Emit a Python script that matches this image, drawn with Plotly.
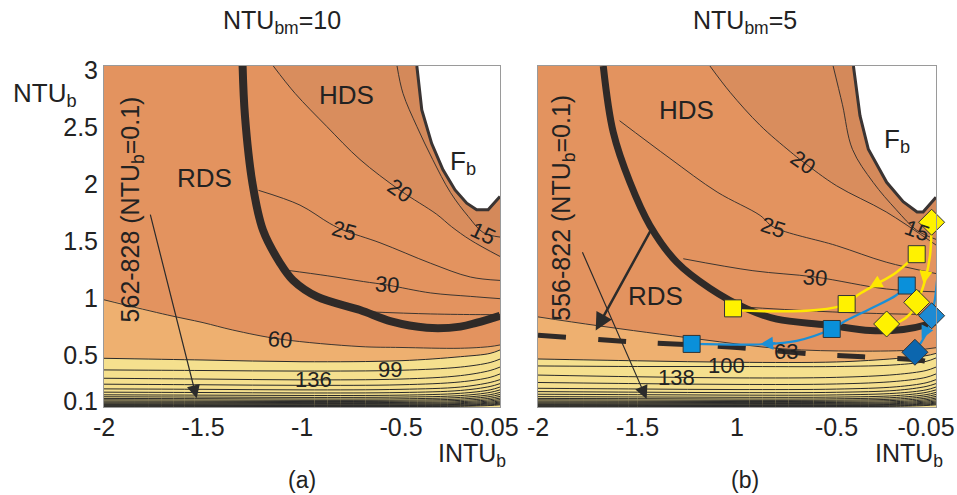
import plotly.graph_objects as go

FONT = "Liberation Sans, Arial, Helvetica, sans-serif"

# ---------------- axes ----------------
X_RANGE = [-2.0, 0.0]
Y_RANGE = [0.05, 3.04]
y_tickvals = [0.1, 0.5, 1, 1.5, 2, 2.5, 3]
y_ticktext = ["0.1", "0.5", "1", "1.5", "2", "2.5", "3"]
x_tickvals = [-2, -1.5, -1, -0.5, -0.05]
a_x_ticktext = ["-2", "-1.5", "-1", "-0.5", "-0.05"]
b_x_ticktext = ["-2", "-1.5", "1", "-0.5", "-0.05"]

# ---------------- colours ----------------
C_BASE = "#E3935F"
C_HDS = "#D98D5D"
C_TOP = "#D4895A"
C_MID = "#EEB070"
C_LOW = "#F5E08E"
C_LINE = "#2A2A2A"
C_THICK = "#2F2A28"

# ================= Panel (a): NTU_bm = 10 =================
a_thick_x = [-1.30, -1.288, -1.25, -1.197, -1.11, -1.045, -0.924, -0.707, -0.55, -0.37, -0.2, -0.116, 0.0]
a_thick_y = [3.04, 2.60, 2.01, 1.60, 1.31, 1.16, 1.017, 0.90, 0.80, 0.745, 0.755, 0.79, 0.85]

a_fb_x = [-0.42, -0.395, -0.345, -0.288, -0.227, -0.168, -0.118, -0.06, 0.0]
a_fb_y = [3.04, 2.655, 2.36, 2.13, 1.953, 1.837, 1.78, 1.78, 1.895]

a_c15_x = [-0.52, -0.49, -0.42, -0.34, -0.25, -0.16, -0.085, 0.0]
a_c15_y = [3.04, 2.80, 2.51, 2.22, 1.93, 1.72, 1.58, 1.54]

a_c20_x = [-1.145, -1.035, -0.875, -0.707, -0.505, -0.32, -0.244, -0.15, 0.0]
a_c20_y = [3.04, 2.80, 2.51, 2.22, 1.95, 1.74, 1.63, 1.515, 1.37]

a_c25_x = [-1.22, -1.01, -0.86, -0.79, -0.606, -0.35, -0.15, 0.0]
a_c25_y = [1.95, 1.82, 1.66, 1.60, 1.49, 1.31, 1.19, 1.16]

a_c30_x = [-1.08, -0.87, -0.69, -0.57, -0.35, -0.15, 0.0]
a_c30_y = [1.25, 1.20, 1.15, 1.12, 1.05, 1.02, 1.00]

a_c40_x = [-0.69, -0.35, -0.1, 0.0]
a_c40_y = [0.886, 0.866, 0.86, 0.86]

a_c60_x = [-2.0, -1.68, -1.5, -1.35, -1.11, -0.707, -0.5, -0.2, -0.05, 0.0]
a_c60_y = [0.99, 0.857, 0.79, 0.725, 0.645, 0.58, 0.572, 0.565, 0.58, 0.594]

low_x = [-2.0, -1.5, -1.0, -0.5, -0.2, -0.05, 0.0]
a_low_y = [
    [0.477, 0.462, 0.447, 0.456, 0.491, 0.52, 0.55],
    [0.375, 0.370, 0.365, 0.372, 0.400, 0.44, 0.47],
    [0.302, 0.295, 0.288, 0.295, 0.325, 0.37, 0.40],
    [0.250, 0.245, 0.240, 0.245, 0.270, 0.31, 0.34],
    [0.209, 0.205, 0.200, 0.205, 0.225, 0.265, 0.29],
    [0.180, 0.177, 0.173, 0.177, 0.195, 0.230, 0.255],
    [0.157, 0.154, 0.151, 0.154, 0.170, 0.200, 0.225],
    [0.140, 0.137, 0.134, 0.137, 0.150, 0.178, 0.200],
    [0.125, 0.123, 0.120, 0.122, 0.134, 0.158, 0.178],
    [0.113, 0.111, 0.108, 0.110, 0.120, 0.142, 0.160],
    [0.102, 0.100, 0.098, 0.100, 0.108, 0.127, 0.143],
    [0.093, 0.091, 0.089, 0.090, 0.097, 0.114, 0.128],
    [0.085, 0.083, 0.081, 0.082, 0.088, 0.103, 0.115],
    [0.078, 0.076, 0.074, 0.075, 0.080, 0.093, 0.103],
    [0.071, 0.070, 0.068, 0.069, 0.073, 0.084, 0.093],
    [0.065, 0.064, 0.063, 0.063, 0.067, 0.076, 0.084],
    [0.060, 0.059, 0.058, 0.058, 0.061, 0.069, 0.076],
    [0.055, 0.055, 0.054, 0.054, 0.056, 0.063, 0.069],
]

# contour labels (text, x, y, angle)
a_labels = [("20", -0.505, 1.95, 35), ("25", -0.79, 1.60, 15), ("30", -0.57, 1.12, 5),
            ("15", -0.084, 1.574, 25), ("60", -1.11, 0.645, 5), ("99", -0.556, 0.375, 0),
            ("136", -0.943, 0.287, 0)]
a_regions = [("RDS", -1.49, 2.056), ("HDS", -0.774, 2.787), ("F<sub>b</sub>", -0.185, 2.19)]
a_note = ("562-828 (NTU<sub>b</sub>=0.1)", -1.86, 1.78)
a_arrow = (-1.768, 1.75, -1.532, 0.126)   # tail x, tail y, head x, head y

# ================= Panel (b): NTU_bm = 5 =================
b_thick_x = [-1.672, -1.622, -1.538, -1.437, -1.303, -1.136, -0.95, -0.80, -0.55, -0.33, -0.164, -0.03, 0.0]
b_thick_y = [3.04, 2.46, 2.02, 1.64, 1.32, 1.09, 0.91, 0.82, 0.77, 0.72, 0.73, 0.78, 0.80]

b_fb_x = [-0.415, -0.382, -0.34, -0.248, -0.165, -0.095, -0.065, 0.0]
b_fb_y = [3.04, 2.605, 2.31, 2.02, 1.85, 1.76, 1.76, 1.89]

b_c15_x = [-0.517, -0.47, -0.42, -0.316, -0.2, -0.097, 0.0]
b_c15_y = [3.04, 2.70, 2.31, 2.02, 1.78, 1.60, 1.52]

b_c20_x = [-1.136, -1.035, -0.884, -0.733, -0.668, -0.50, -0.25, 0.0]
b_c20_y = [3.04, 2.81, 2.52, 2.29, 2.20, 1.99, 1.76, 1.47]

b_c25_x = [-1.59, -1.337, -1.10, -0.884, -0.818, -0.50, -0.25, 0.0]
b_c25_y = [2.56, 2.23, 1.935, 1.73, 1.63, 1.465, 1.32, 1.22]

b_c30_x = [-1.27, -0.92, -0.608, -0.25, 0.0]
b_c30_y = [1.35, 1.245, 1.19, 1.085, 1.06]

b_c40_x = [-1.0, -0.6, -0.3, 0.0]
b_c40_y = [0.93, 0.89, 0.87, 0.86]

b_c60_x = [-2.0, -1.70, -1.20, -0.77, -0.40, -0.10, 0.0]
b_c60_y = [0.84, 0.763, 0.647, 0.56, 0.54, 0.55, 0.57]

b_dash_x = [-2.0, -1.54, -1.035, -0.62, -0.367, -0.065, 0.0]
b_dash_y = [0.68, 0.623, 0.576, 0.515, 0.49, 0.456, 0.427]

b_low_y = [
    [0.471, 0.455, 0.442, 0.445, 0.475, 0.50, 0.52],
    [0.410, 0.405, 0.405, 0.405, 0.420, 0.45, 0.48],
    [0.330, 0.315, 0.305, 0.310, 0.335, 0.37, 0.40],
    [0.265, 0.255, 0.248, 0.252, 0.275, 0.31, 0.34],
    [0.214, 0.208, 0.203, 0.207, 0.227, 0.262, 0.29],
    [0.185, 0.180, 0.176, 0.179, 0.196, 0.230, 0.255],
    [0.162, 0.158, 0.154, 0.156, 0.171, 0.200, 0.225],
    [0.141, 0.138, 0.135, 0.137, 0.150, 0.178, 0.200],
    [0.125, 0.123, 0.120, 0.122, 0.134, 0.158, 0.178],
    [0.113, 0.111, 0.108, 0.110, 0.120, 0.142, 0.160],
    [0.102, 0.100, 0.098, 0.100, 0.108, 0.127, 0.143],
    [0.093, 0.091, 0.089, 0.090, 0.097, 0.114, 0.128],
    [0.085, 0.083, 0.081, 0.082, 0.088, 0.103, 0.115],
    [0.078, 0.076, 0.074, 0.075, 0.080, 0.093, 0.103],
    [0.071, 0.070, 0.068, 0.069, 0.073, 0.084, 0.093],
    [0.065, 0.064, 0.063, 0.063, 0.067, 0.076, 0.084],
    [0.060, 0.059, 0.058, 0.058, 0.061, 0.069, 0.076],
    [0.055, 0.055, 0.054, 0.054, 0.056, 0.063, 0.069],
]

b_labels = [("20", -0.667, 2.197, 35), ("25", -0.818, 1.626, 18), ("30", -0.608, 1.188, 5),
            ("15", -0.097, 1.60, 20), ("63", -0.755, 0.535, 0), ("100", -1.052, 0.412, 0),
            ("138", -1.303, 0.31, 0)]
b_regions = [("HDS", -1.253, 2.65), ("RDS", -1.412, 1.026), ("F<sub>b</sub>", -0.198, 2.386)]
b_note = ("556-822 (NTU<sub>b</sub>=0.1)", -1.873, 1.80)
b_arrow_thin = (-1.78, 1.42, -1.454, 0.12)
b_arrow_thick = (-1.43, 1.61, -1.71, 0.72)

# operating paths (panel b)
ysq_x = [-0.097, -0.449, -1.02]
ysq_y = [1.39, 0.953, 0.915]
ysq_path_x = [-0.097, -0.2, -0.317, -0.398, -0.449, -0.6, -0.85, -1.02]
ysq_path_y = [1.39, 1.23, 1.11, 1.026, 0.953, 0.90, 0.89, 0.90]

bsq_x = [-0.147, -0.524, -1.228]
bsq_y = [1.115, 0.734, 0.603]
bsq_path_x = [-0.147, -0.2, -0.332, -0.449, -0.524, -0.70, -0.87, -1.228]
bsq_path_y = [1.115, 1.03, 0.91, 0.81, 0.734, 0.63, 0.60, 0.603]

ydm_x = [-0.022, -0.097, -0.248]
ydm_y = [1.67, 0.968, 0.778]
ydm_path_x = [-0.022, -0.03, -0.055, -0.08, -0.097, -0.13, -0.18, -0.248]
ydm_path_y = [1.67, 1.38, 1.16, 1.03, 0.968, 0.866, 0.80, 0.778]

bdm_x = [0.028, -0.022, -0.106]
bdm_y = [1.33, 0.85, 0.53]
bdm_colors = ["#1D8AD3", "#1D8AD3", "#0C66AE"]
bdm_path_x = [0.028, 0.012, -0.005, -0.022, -0.039, -0.055, -0.106]
bdm_path_y = [1.33, 1.245, 1.0, 0.85, 0.734, 0.675, 0.53]

# arrow heads on the paths: (tail x, tail y, head x, head y, colour)
path_arrows = [
    (-0.27, 1.16, -0.335, 1.095, "#FFE800"),
    (-0.05, 1.25, -0.062, 1.13, "#FFE800"),
    (-0.80, 0.612, -0.884, 0.60, "#1B8FD6"),
    (-0.047, 0.734, -0.072, 0.646, "#1B8FD6"),
]

fig = go.Figure()
EXT = 0.3  # how far fill polygons are pushed outside the visible axes (clipped)


def poly_upper_right(xs, ys):
    px = list(xs) + [xs[-1] + EXT, xs[-1] + EXT, xs[0]]
    py = list(ys) + [ys[-1], Y_RANGE[1] + EXT, Y_RANGE[1] + EXT]
    return px, py


def poly_below(xs, ys):
    px = [xs[0] - EXT] + list(xs) + [xs[-1] + EXT, xs[-1] + EXT, xs[0] - EXT]
    py = [ys[0]] + list(ys) + [ys[-1], Y_RANGE[0] - EXT, Y_RANGE[0] - EXT]
    return px, py


def add_fill(xa, ya, poly, color, shape="spline"):
    fig.add_trace(go.Scatter(x=poly[0], y=poly[1], xaxis=xa, yaxis=ya, mode="lines",
                             line=dict(width=0, shape=shape, color=color), fill="toself",
                             fillcolor=color, hoverinfo="skip"))


def add_line(xa, ya, xs, ys, width=0.9, color=C_LINE, dash=None, shape="spline"):
    fig.add_trace(go.Scatter(x=xs, y=ys, xaxis=xa, yaxis=ya, mode="lines",
                             line=dict(width=width, color=color, shape=shape, dash=dash),
                             hoverinfo="skip"))


def add_panel(xa, ya, c15, c20, c25, c30, c40, c60, fb, low_y, thick, thick_w):
    add_fill(xa, ya, poly_upper_right(*c20), C_HDS)
    add_fill(xa, ya, poly_upper_right(*c15), C_TOP)
    add_fill(xa, ya, poly_below(*c60), C_MID)
    add_fill(xa, ya, poly_below(low_x, low_y[0]), C_LOW)
    add_fill(xa, ya, poly_upper_right(*fb), "#FFFFFF", shape="linear")
    for xs, ys in [c15, c20, c25, c30, c40, c60]:
        add_line(xa, ya, xs, ys)
    for row in low_y:
        add_line(xa, ya, low_x, row, width=1.0)
    add_line(xa, ya, fb[0], fb[1], width=3, color="#3A3433", shape="linear")
    add_line(xa, ya, thick[0], thick[1], width=thick_w, color=C_THICK)


add_panel("x", "y", (a_c15_x, a_c15_y), (a_c20_x, a_c20_y), (a_c25_x, a_c25_y),
          (a_c30_x, a_c30_y), (a_c40_x, a_c40_y), (a_c60_x, a_c60_y),
          (a_fb_x, a_fb_y), a_low_y, (a_thick_x, a_thick_y), 8)
add_panel("x2", "y2", (b_c15_x, b_c15_y), (b_c20_x, b_c20_y), (b_c25_x, b_c25_y),
          (b_c30_x, b_c30_y), (b_c40_x, b_c40_y), (b_c60_x, b_c60_y),
          (b_fb_x, b_fb_y), b_low_y, (b_thick_x, b_thick_y), 7)
add_line("x2", "y2", b_dash_x, b_dash_y, width=5, color=C_THICK, dash="28px,32px")

# operating paths
add_line("x2", "y2", ysq_path_x, ysq_path_y, width=2.5, color="#FFE800")
add_line("x2", "y2", ydm_path_x, ydm_path_y, width=2.5, color="#FFE800")
add_line("x2", "y2", bsq_path_x, bsq_path_y, width=2.2, color="#1B8FD6")
add_line("x2", "y2", bdm_path_x, bdm_path_y, width=2.2, color="#1B8FD6")

for xs, ys, sym, col in [(ysq_x, ysq_y, "square", "#FFF200"),
                         (bsq_x, bsq_y, "square", "#0A90DA"),
                         (ydm_x, ydm_y, "diamond", "#FFF200"),
                         (bdm_x, bdm_y, "diamond", bdm_colors)]:
    fig.add_trace(go.Scatter(x=xs, y=ys, xaxis="x2", yaxis="y2", mode="markers",
                             cliponaxis=False,
                             marker=dict(symbol=sym, size=17 if sym == "square" else 20,
                                         color=col, line=dict(color="#333333", width=1)),
                             hoverinfo="skip"))

annotations = []


def txt(text, x, y, xref, yref, size, angle=0):
    annotations.append(dict(text=text, x=x, y=y, xref=xref, yref=yref, showarrow=False,
                            font=dict(family=FONT, size=size, color="#222222"),
                            textangle=angle, xanchor="center", yanchor="middle"))


for t, x, y, ang in a_labels:
    txt(t, x, y, "x", "y", 22, ang)
for t, x, y, ang in b_labels:
    txt(t, x, y, "x2", "y2", 22, ang)
for t, x, y in a_regions:
    txt(t, x, y, "x", "y", 26)
for t, x, y in b_regions:
    txt(t, x, y, "x2", "y2", 26)
txt(a_note[0], a_note[1], a_note[2], "x", "y", 25, -90)
txt(b_note[0], b_note[1], b_note[2], "x2", "y2", 25, -90)


def arrow(a, xref, yref, width, size, color="#2B2B2B"):
    tx, ty, hx, hy = a[:4]
    annotations.append(dict(x=hx, y=hy, ax=tx, ay=ty, xref=xref, yref=yref,
                            axref=xref, ayref=yref, showarrow=True, text="",
                            arrowhead=2, arrowsize=size, arrowwidth=width,
                            arrowcolor=color))


arrow(a_arrow, "x", "y", 1.2, 2.2)
arrow(b_arrow_thin, "x2", "y2", 1.2, 2.2)
arrow(b_arrow_thick, "x2", "y2", 2.5, 1.4)
for pa in path_arrows:
    arrow(pa, "x2", "y2", 2.0, 1.3, pa[4])

# titles and axis labels
txt("NTU<sub>bm</sub>=10", 282 / 957, 1 - 22 / 495, "paper", "paper", 25)
txt("NTU<sub>bm</sub>=5", 745 / 957, 1 - 22 / 495, "paper", "paper", 25)
txt("NTU<sub>b</sub>", 45 / 957, 1 - 94 / 495, "paper", "paper", 26)
txt("INTU<sub>b</sub>", 472 / 957, 1 - 455 / 495, "paper", "paper", 25)
txt("INTU<sub>b</sub>", 909 / 957, 1 - 455 / 495, "paper", "paper", 25)
txt("(a)", 302 / 957, 1 - 480 / 495, "paper", "paper", 23)
txt("(b)", 745 / 957, 1 - 480 / 495, "paper", "paper", 23)

axis_common = dict(range=X_RANGE, showgrid=False, zeroline=False, ticks="",
                   showline=True, mirror=True, linecolor="#9A9A9A", linewidth=1,
                   tickfont=dict(family=FONT, size=25, color="#222222"),
                   tickvals=x_tickvals, ticklabelstandoff=-2, automargin=False)
y_domain = [1 - 407 / 495, 1 - 66 / 495]

fig.update_layout(
    width=957, height=495,
    margin=dict(l=0, r=0, t=0, b=0, autoexpand=False),
    paper_bgcolor="white", plot_bgcolor=C_BASE,
    showlegend=False,
    xaxis=dict(domain=[104 / 957, 500 / 957], anchor="y", ticktext=a_x_ticktext, **axis_common),
    xaxis2=dict(domain=[538 / 957, 936 / 957], anchor="y2", ticktext=b_x_ticktext, **axis_common),
    yaxis=dict(domain=y_domain, anchor="x", range=Y_RANGE, showgrid=False, zeroline=False,
               ticks="", showline=True, mirror=True, linecolor="#9A9A9A", linewidth=1,
               tickvals=y_tickvals, ticktext=y_ticktext, automargin=False,
               tickfont=dict(family=FONT, size=25, color="#222222")),
    yaxis2=dict(domain=y_domain, anchor="x2", range=Y_RANGE, showgrid=False, zeroline=False,
                ticks="", showline=True, mirror=True, linecolor="#9A9A9A", linewidth=1,
                showticklabels=False, automargin=False),
    annotations=annotations,
)

fig.write_html("out.html", config={"displayModeBar": False},
               post_script="document.body.style.margin='0';document.body.style.overflow='hidden';")
